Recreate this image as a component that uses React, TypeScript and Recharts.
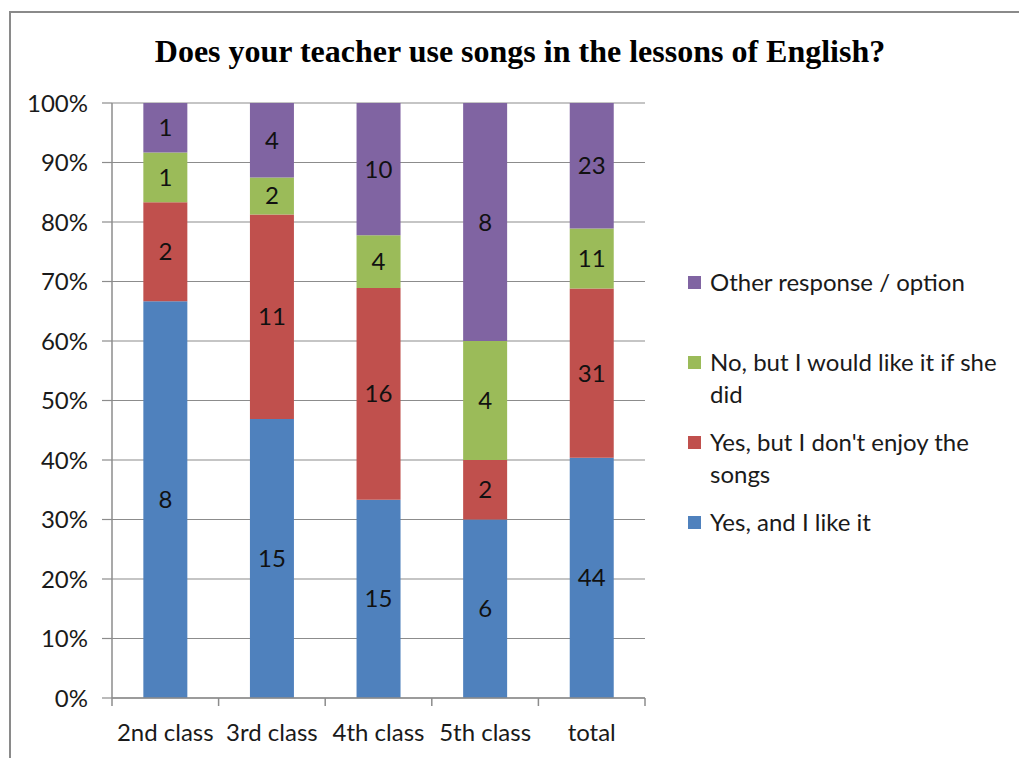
import React from 'react';
import { BarChart, Bar, XAxis, YAxis, CartesianGrid, LabelList } from 'recharts';

const categories = ['2nd class', '3rd class', '4th class', '5th class', 'total'];
const likeIt = [8, 15, 15, 6, 44];
const dontEnjoy = [2, 11, 16, 2, 31];
const wouldLike = [1, 2, 4, 4, 11];
const other = [1, 4, 10, 8, 23];
const yTicks = [0, 0.1, 0.2, 0.3, 0.4, 0.5, 0.6, 0.7, 0.8, 0.9, 1];

const seriesNames = {
  likeIt: 'Yes, and I like it',
  dontEnjoy: "Yes, but I don't enjoy the songs",
  wouldLike: 'No, but I would like it if she did',
  other: 'Other response / option',
};
const colors = {
  likeIt: '#4F81BD',
  dontEnjoy: '#C0504D',
  wouldLike: '#9BBB59',
  other: '#8064A2',
};

const data = categories.map((c, i) => ({
  name: c,
  likeIt: likeIt[i],
  dontEnjoy: dontEnjoy[i],
  wouldLike: wouldLike[i],
  other: other[i],
}));

const FONT = 'Lato, "Open Sans", sans-serif';
const FS = 24;
const GRID = '#8c8c8c';
const X_TICK = 8;
const X_MARGIN = 18;

const XTick = (props: any) => {
  const { x, y, payload, index, visibleTicksCount } = props;
  const half = payload && payload.offset ? payload.offset : 0;
  const ay = y - X_TICK - X_MARGIN;
  const last = index === visibleTicksCount - 1;
  return (
    <g>
      <line x1={x - half} x2={x - half} y1={ay} y2={ay + X_TICK} stroke={GRID} strokeWidth={1.5} />
      {last && <line x1={x + half} x2={x + half} y1={ay} y2={ay + X_TICK} stroke={GRID} strokeWidth={1.5} />}
      <text x={x} y={y} dy="0.71em" textAnchor="middle" fill="#1a1a1a" fontFamily={FONT} fontSize={FS}>
        {payload.value}
      </text>
    </g>
  );
};

const legendOrder: (keyof typeof colors)[] = ['other', 'wouldLike', 'dontEnjoy', 'likeIt'];

export default function App() {
  return (
    <div style={{ position: 'absolute', left: 0, top: 0, width: 1019, height: 758, background: '#fff', overflow: 'hidden' }}>
      <div style={{ position: 'absolute', left: 9, top: 11, width: 1010, height: 2, background: '#8a8a8a' }} />
      <div style={{ position: 'absolute', left: 9, top: 11, width: 2, height: 747, background: '#8a8a8a' }} />
      <div
        style={{
          position: 'absolute',
          left: 0,
          width: 1040,
          top: 31,
          textAlign: 'center',
          fontFamily: '"Liberation Serif", "Times New Roman", serif',
          fontWeight: 'bold',
          fontSize: 32,
          lineHeight: '40px',
          color: '#000',
        }}
      >
        Does your teacher use songs in the lessons of English?
      </div>
      <div style={{ position: 'absolute', left: 0, top: 0 }}>
        <BarChart
          width={1019}
          height={758}
          data={data}
          stackOffset="expand"
          barCategoryGap="29.4%"
          margin={{ top: 103, right: 374, bottom: 0, left: 0 }}
        >
          <CartesianGrid vertical={false} stroke={GRID} strokeWidth={1.2} />
          <XAxis
            dataKey="name"
            axisLine={{ stroke: GRID, strokeWidth: 1.5 }}
            tickLine={{ stroke: 'transparent' }}
            tickSize={X_TICK}
            tickMargin={X_MARGIN}
            tick={<XTick />}
            interval={0}
            height={60}
          />
          <YAxis
            width={112}
            domain={[0, 1]}
            ticks={yTicks}
            tickFormatter={(v: number) => `${Math.round(v * 100)}%`}
            axisLine={{ stroke: GRID, strokeWidth: 1.5 }}
            tickLine={{ stroke: GRID, strokeWidth: 1.2 }}
            tickSize={10}
            tickMargin={14}
            tick={{ fill: '#1a1a1a', fontFamily: FONT, fontSize: FS }}
            interval={0}
          />
          {(['likeIt', 'dontEnjoy', 'wouldLike', 'other'] as const).map((k) => (
            <Bar key={k} dataKey={k} stackId="a" fill={colors[k]} isAnimationActive={false} name={seriesNames[k]}>
              <LabelList dataKey={k} position="center" fill="#111" fontFamily={FONT} fontSize={FS} />
            </Bar>
          ))}
        </BarChart>
      </div>
      {legendOrder.map((k, i) => (
        <div
          key={k}
          style={{
            position: 'absolute',
            left: 688,
            top: 266 + i * 80,
            width: 330,
            display: 'flex',
            alignItems: 'flex-start',
            fontFamily: FONT,
            fontSize: 24,
            lineHeight: '32px',
            color: '#1a1a1a',
          }}
        >
          <div style={{ width: 13, height: 13, background: colors[k], marginTop: 10, marginRight: 9, flexShrink: 0 }} />
          <div style={{ width: 305 }}>{seriesNames[k]}</div>
        </div>
      ))}
    </div>
  );
}
